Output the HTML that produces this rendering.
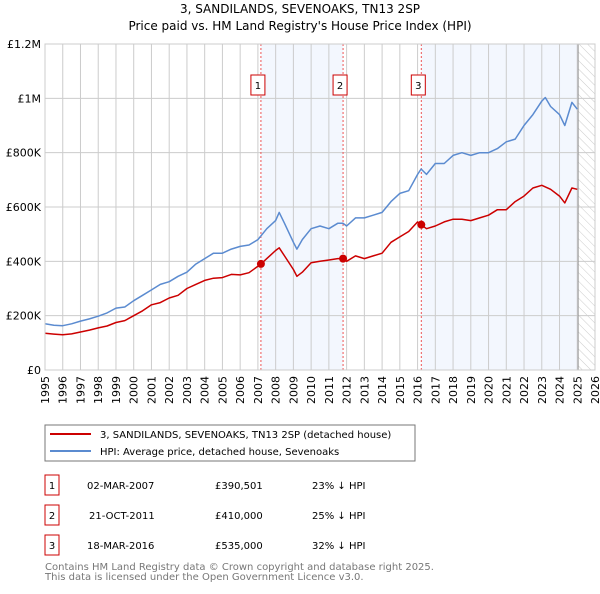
<!DOCTYPE html>
<html><head><meta charset="utf-8">
<style>
body{margin:0;background:#fff;font-family:"DejaVu Sans","Liberation Sans",sans-serif;}
svg text{font-family:"DejaVu Sans","Liberation Sans",sans-serif;}
</style></head>
<body>
<svg id="c" width="600" height="590" xmlns="http://www.w3.org/2000/svg">
<defs><pattern id="hatch" width="6" height="6" patternUnits="userSpaceOnUse" patternTransform="rotate(-45)"><line x1="0" y1="0" x2="0" y2="6" stroke="#ccc" stroke-width="1"/></pattern></defs>
<text x="300" y="13" font-size="12" text-anchor="middle">3, SANDILANDS, SEVENOAKS, TN13 2SP</text>
<text x="300" y="30" font-size="12" text-anchor="middle">Price paid vs. HM Land Registry's House Price Index (HPI)</text>
<g id="plot"></g>
<rect x="45" y="425" width="370" height="36" fill="#fff" stroke="#777"/>
<line x1="50" y1="434" x2="91" y2="434" stroke="#cc0000" stroke-width="2"/>
<text x="100" y="438" font-size="10">3, SANDILANDS, SEVENOAKS, TN13 2SP (detached house)</text>
<line x1="50" y1="451" x2="91" y2="451" stroke="#5b8bd0" stroke-width="2"/>
<text x="100" y="455" font-size="10">HPI: Average price, detached house, Sevenoaks</text>
<g font-size="10">
<rect x="45" y="475" width="14" height="20" fill="none" stroke="#cc0000"/><text x="52" y="489" text-anchor="middle">1</text>
<text x="87" y="489">02-MAR-2007</text><text x="215" y="489">£390,501</text><text x="312" y="489">23% ↓ HPI</text>
<rect x="45" y="505" width="14" height="20" fill="none" stroke="#cc0000"/><text x="52" y="519" text-anchor="middle">2</text>
<text x="89" y="519">21-OCT-2011</text><text x="215" y="519">£410,000</text><text x="312" y="519">25% ↓ HPI</text>
<rect x="45" y="535" width="14" height="20" fill="none" stroke="#cc0000"/><text x="52" y="549" text-anchor="middle">3</text>
<text x="87" y="549">18-MAR-2016</text><text x="215" y="549">£535,000</text><text x="312" y="549">32% ↓ HPI</text>
</g>
<text x="45" y="570" font-size="10" fill="#777">Contains HM Land Registry data © Crown copyright and database right 2025.</text>
<text x="45" y="580" font-size="10" fill="#777">This data is licensed under the Open Government Licence v3.0.</text>
</svg>
<script>
const hpiYears=[1995,1995.5,1996,1996.5,1997,1997.5,1998,1998.5,1999,1999.5,2000,2000.5,2001,2001.5,2002,2002.5,2003,2003.5,2004,2004.5,2005,2005.5,2006,2006.5,2007,2007.5,2008,2008.2,2008.5,2009,2009.2,2009.5,2010,2010.5,2011,2011.5,2011.8,2012,2012.5,2013,2013.5,2014,2014.5,2015,2015.5,2016,2016.2,2016.5,2017,2017.5,2018,2018.5,2019,2019.5,2020,2020.5,2021,2021.5,2022,2022.5,2023,2023.2,2023.5,2024,2024.3,2024.7,2025];
const hpiValues=[170,165,163,170,180,188,198,210,228,232,255,275,295,315,325,345,360,390,410,430,430,445,455,460,480,520,550,580,540,470,445,480,520,530,520,540,540,530,560,560,570,580,620,650,660,720,740,720,760,760,790,800,790,800,800,815,840,850,900,940,990,1003,970,940,900,985,960];
const priceYears=[1995,1995.5,1996,1996.5,1997,1997.5,1998,1998.5,1999,1999.5,2000,2000.5,2001,2001.5,2002,2002.5,2003,2003.5,2004,2004.5,2005,2005.5,2006,2006.5,2007.17,2007.5,2008,2008.2,2008.5,2009,2009.2,2009.5,2010,2010.5,2011,2011.5,2011.8,2012,2012.5,2013,2013.5,2014,2014.5,2015,2015.5,2016,2016.2,2016.5,2017,2017.5,2018,2018.5,2019,2019.5,2020,2020.5,2021,2021.5,2022,2022.5,2023,2023.5,2024,2024.3,2024.7,2025];
const priceValues=[135,132,130,133,140,147,155,162,175,182,200,218,240,248,265,275,300,315,330,338,340,352,350,358,390,410,440,450,420,370,345,360,395,400,405,410,410,400,420,410,420,430,470,490,510,545,535,520,530,545,555,555,550,560,570,590,590,620,640,670,680,665,640,615,670,665];
const saleYears=[2007.17,2011.8,2016.21];
const saleValues=[390.501,410,535];
const saleLabels=["1","2","3"];
const yTicks=[0,200,400,600,800,1000,1200];
const yTickLabels=["£0","£200K","£400K","£600K","£800K","£1M","£1.2M"];
const xTicks=[];for(let y=1995;y<=2026;y++)xTicks.push(y);

const X0=45,X1=595,Y0=370,Y1=44;
const xs=t=>X0+(t-1995)/(2026-1995)*(X1-X0);
const ys=v=>Y0-v/1200*(Y0-Y1);
const NS="http://www.w3.org/2000/svg";
const g=document.getElementById('plot');
function el(tag,attrs,parent){const e=document.createElementNS(NS,tag);for(const k in attrs)e.setAttribute(k,attrs[k]);(parent||g).appendChild(e);return e;}

// shaded regions
let r=el('rect',{x:xs(saleYears[0]),y:Y1,width:xs(saleYears[1])-xs(saleYears[0]),height:Y0-Y1,fill:'#eef3fd',opacity:0.7});


r=el('rect',{x:xs(saleYears[2]),y:Y1,width:xs(2025.05)-xs(saleYears[2]),height:Y0-Y1,fill:'#eef3fd',opacity:0.7});


r=el('rect',{x:xs(2025.05),y:Y1,width:X1-xs(2025.05),height:Y0-Y1,fill:'url(#hatch)'});



// grid
xTicks.forEach(t=>{
  const l=el('line',{x1:xs(t),x2:xs(t),y1:Y1,y2:Y0,stroke:'#ccc','stroke-width':1});
  
  
  const tx=el('text',{x:0,y:0,'font-size':11,'text-anchor':'end',transform:`translate(${xs(t)+4},${Y0+6}) rotate(-90)`});
  tx.textContent=t;
  
  
});
yTicks.forEach((v,i)=>{
  const l=el('line',{x1:X0,x2:X1,y1:ys(v),y2:ys(v),stroke:'#ccc','stroke-width':1});
  
  
  const tx=el('text',{x:X0-4,y:ys(v)+4,'font-size':11,'text-anchor':'end'});
  tx.textContent=yTickLabels[i];
  
  
});
r=el('line',{x1:xs(2025.05),x2:xs(2025.05),y1:Y1,y2:Y0,stroke:'#999','stroke-width':1});



// sale vertical lines
saleYears.forEach((t,i)=>{
  const l=el('line',{x1:xs(t),x2:xs(t),y1:Y1,y2:Y0,stroke:'#e55','stroke-width':1,'stroke-dasharray':'2,2'});
  
  
  const b=el('rect',{x:xs(t)-10,y:75,width:14,height:20,fill:'#fff',stroke:'#cc0000'});
  
  
  const tx=el('text',{x:xs(t)-3,y:89,'font-size':10,'text-anchor':'middle'});
  tx.textContent=saleLabels[i];
  
  
});

function line(years,vals,color,name){
  const d=years.map((t,i)=>(i?'L':'M')+xs(t).toFixed(1)+','+ys(vals[i]).toFixed(1)).join(' ');
  const p=el('path',{d:d,fill:'none',stroke:color,'stroke-width':1.5,'stroke-linejoin':'round'});
  
  
}
line(hpiYears,hpiValues,'#5b8bd0','hpi-line');
line(priceYears,priceValues,'#cc0000','price-paid-line');
saleYears.forEach((t,i)=>{
  const c=el('circle',{cx:xs(t),cy:ys(saleValues[i]),r:4,fill:'#cc0000'});
  
  
});
r=el('rect',{x:X0,y:Y1,width:X1-X0,height:Y0-Y1,fill:'none',stroke:'#ccc'});


</script>
</body></html>
